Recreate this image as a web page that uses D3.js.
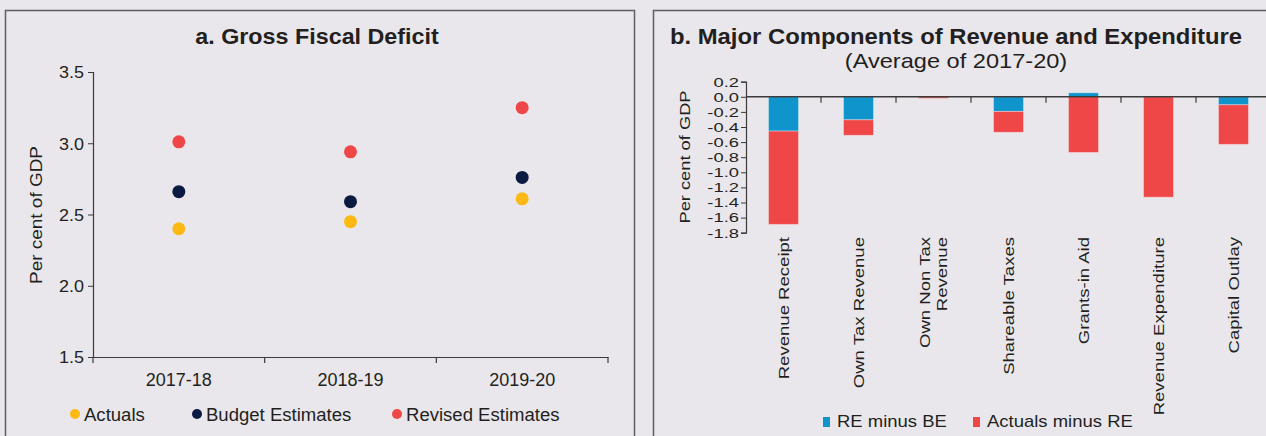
<!DOCTYPE html>
<html>
<head>
<meta charset="utf-8">
<script src="https://cdn.jsdelivr.net/npm/d3@7"></script>
<style>
  body { margin: 0; background: #e9e7ec; }
  svg text { font-family: "Liberation Sans", Arial, sans-serif; fill: #231f20; }
</style>
</head>
<body>
<svg id="chart" width="1266" height="436"></svg>
<script>
// Panel a: gross fiscal deficit, per cent of GDP
const years = ["2017-18", "2018-19", "2019-20"];
const actuals = [2.40, 2.45, 2.61];
const budgetEstimates = [2.66, 2.59, 2.76];
const revisedEstimates = [3.01, 2.94, 3.25];
const gfdTicks = [1.5, 2.0, 2.5, 3.0, 3.5];

// Panel b: deviations of major components (average of 2017-20)
const components = ["Revenue Receipt", "Own Tax Revenue", "Own Non Tax|Revenue", "Shareable Taxes",
                    "Grants-in Aid", "Revenue Expenditure", "Capital Outlay"];
const reMinusBe = [-0.454, -0.305, 0, -0.194, 0.053, 0, -0.106];
const actualsMinusRe = [-1.236, -0.205, -0.02, -0.276, -0.737, -1.33, -0.524];
const componentTicks = [0.2, 0.0, -0.2, -0.4, -0.6, -0.8, -1.0, -1.2, -1.4, -1.6, -1.8];

const colors = {
  actual: "#fdb913", budget: "#0b1a40", revised: "#ef4648",
  blue: "#0f94cc", red: "#ef4648", ink: "#231f20", axis: "#3a3a3a", frame: "#5e5e60"
};

const svg = d3.select("#chart");

// Text helper: wide-set lettering via a horizontal stretch along the text direction
function label(g, o) {
  return g.append("text")
    .attr("transform", `translate(${o.x},${o.y}) rotate(${o.rotate || 0}) scale(${o.sx || 1},1)`)
    .attr("text-anchor", o.anchor || "start")
    .attr("font-size", o.size)
    .attr("font-weight", o.bold ? "bold" : null)
    .text(o.text);
}
// Restyle an axis' tick labels with the same stretch
function styleTicks(axisG, size, sx, offset, fmt) {
  axisG.selectAll(".tick text")
    .style("font-family", null).attr("fill", colors.ink)
    .attr("font-size", size).attr("x", -offset / sx)
    .attr("transform", `scale(${sx},1)`)
    .text(d => fmt(d).replace("\u2212", "-"));
}

// Panel frames
svg.append("rect").attr("x", 5.5).attr("y", 10.5).attr("width", 629).attr("height", 440)
  .attr("fill", "none").attr("stroke", colors.frame).attr("stroke-width", 1.5);
svg.append("rect").attr("x", 653.5).attr("y", 10.5).attr("width", 640).attr("height", 440)
  .attr("fill", "none").attr("stroke", colors.frame).attr("stroke-width", 1.5);

// ---------- Panel a ----------
const a = svg.append("g");
label(a, { x: 317, y: 44, size: 22, sx: 1.06, bold: true, anchor: "middle", text: "a. Gross Fiscal Deficit" });

const xA = d3.scaleBand().domain(years).range([93, 608]);
const yA = d3.scaleLinear().domain([1.5, 3.5]).range([357, 72]);

const yAxisA = a.append("g").attr("transform", "translate(93,0)")
  .call(d3.axisLeft(yA).tickValues(gfdTicks).tickSize(5));
yAxisA.select(".domain").attr("stroke", colors.axis).attr("stroke-width", 1.2);
yAxisA.selectAll(".tick line").attr("stroke", colors.axis);
styleTicks(yAxisA, 16.5, 1.09, 9, d3.format(".1f"));
yAxisA.selectAll(".tick text").attr("dy", "0.35em");

const xAxisA = a.append("g").attr("transform", "translate(0,357)")
  .call(d3.axisBottom(xA).tickSize(0).tickPadding(16));
xAxisA.select(".domain").attr("stroke", colors.axis).attr("stroke-width", 1.2);
xAxisA.selectAll(".tick text").attr("font-size", 18).attr("fill", colors.ink).style("font-family", null);
// Tick marks between the year bands
xAxisA.selectAll(".sep").data([...years.map(d => xA(d)), xA.range()[1]]).enter()
  .append("line").attr("x1", d => d).attr("x2", d => d).attr("y1", 0).attr("y2", 6)
  .attr("stroke", colors.axis).attr("stroke-width", 1.2);

label(a, { x: 42, y: 215, size: 16.5, sx: 1.15, rotate: -90, anchor: "middle", text: "Per cent of GDP" });

const gfdSeries = [
  { name: "Actuals", values: actuals, color: colors.actual },
  { name: "Budget Estimates", values: budgetEstimates, color: colors.budget },
  { name: "Revised Estimates", values: revisedEstimates, color: colors.revised }
];
gfdSeries.forEach(s => {
  a.selectAll(null).data(s.values).enter().append("circle")
    .attr("cx", (d, i) => xA(years[i]) + xA.bandwidth() / 2)
    .attr("cy", d => yA(d)).attr("r", 6.5).attr("fill", s.color);
});

const legAX = [75, 197, 397];
gfdSeries.forEach((s, i) => {
  a.append("circle").attr("cx", legAX[i]).attr("cy", 414).attr("r", 5).attr("fill", s.color);
  label(a, { x: legAX[i] + 9, y: 421, size: 17.5, sx: 1.06, text: s.name });
});

// ---------- Panel b ----------
const b = svg.append("g");
label(b, { x: 956, y: 44, size: 22.5, sx: 1.06, bold: true, anchor: "middle",
           text: "b. Major Components of Revenue and Expenditure" });
label(b, { x: 956, y: 68, size: 20, sx: 1.18, anchor: "middle", text: "(Average of 2017-20)" });

const xB = d3.scaleBand().domain(components).range([746, 746 + 75 * components.length]);
const yB = d3.scaleLinear().domain([-1.8, 0.2]).range([232.7, 81.7]);

const rows = components.map((c, i) => ({ cat: c, re: reMinusBe[i], act: actualsMinusRe[i] }));
const stacked = d3.stack().keys(["re", "act"]).offset(d3.stackOffsetDiverging)(rows);
const barW = 30;
const fills = { re: colors.blue, act: colors.red };

b.selectAll("g.layer").data(stacked).enter().append("g").attr("class", "layer")
  .attr("fill", d => fills[d.key])
  .selectAll("rect").data(d => d).enter().append("rect")
  .attr("x", d => xB(d.data.cat) + xB.bandwidth() / 2 - barW / 2)
  .attr("y", d => yB(Math.max(d[0], d[1])))
  .attr("width", barW)
  .attr("height", d => Math.abs(yB(d[0]) - yB(d[1])))
  .attr("stroke", "rgba(255,255,255,0.35)").attr("stroke-width", 1);

const yAxisB = b.append("g").attr("transform", "translate(746,0)")
  .call(d3.axisLeft(yB).tickValues(componentTicks).tickSize(5));
yAxisB.select(".domain").attr("stroke", colors.axis).attr("stroke-width", 1.2);
yAxisB.selectAll(".tick line").attr("stroke", colors.axis);
styleTicks(yAxisB, 13.5, 1.36, 7, d3.format(".1f"));

// Zero line with separators between categories
const zeroY = yB(0);
b.append("line").attr("x1", 746).attr("x2", 1266).attr("y1", zeroY).attr("y2", zeroY)
  .attr("stroke", colors.axis).attr("stroke-width", 1.5);
b.selectAll(".sepb").data(components.slice(1)).enter().append("line")
  .attr("x1", d => xB(d)).attr("x2", d => xB(d)).attr("y1", zeroY).attr("y2", zeroY + 6)
  .attr("stroke", colors.axis).attr("stroke-width", 1.2);

// Rotated category labels (a "|" splits a label into lines)
components.forEach(c => {
  const lines = c.split("|");
  const cx = xB(c) + xB.bandwidth() / 2;
  const t = b.append("text").attr("text-anchor", "end").attr("font-size", 14.5)
    .attr("transform", `translate(${cx},237) rotate(-90) scale(1.28,1)`);
  lines.forEach((ln, j) => {
    t.append("tspan").attr("x", 0)
      .attr("y", 5 + (j - (lines.length - 1) / 2) * 17).text(ln);
  });
});

label(b, { x: 690, y: 157, size: 15, sx: 1.22, rotate: -90, anchor: "middle", text: "Per cent of GDP" });

const legB = [{ name: "RE minus BE", color: colors.blue, x: 823 }, { name: "Actuals minus RE", color: colors.red, x: 973 }];
legB.forEach(l => {
  b.append("rect").attr("x", l.x).attr("y", 417).attr("width", 7).attr("height", 10).attr("fill", l.color);
  label(b, { x: l.x + 14, y: 427, size: 15.8, sx: 1.17, text: l.name });
});
</script>
</body>
</html>
